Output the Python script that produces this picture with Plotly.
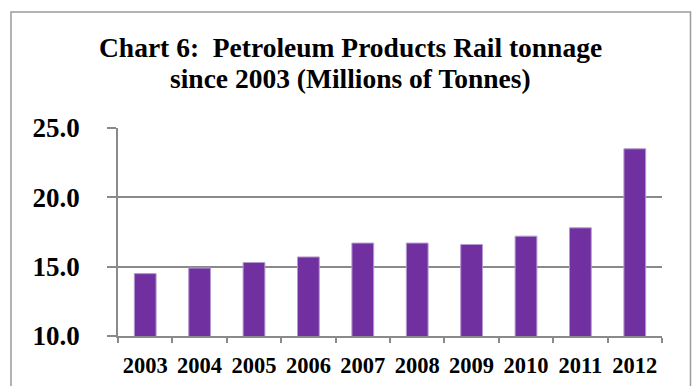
import plotly.graph_objects as go

# Petroleum products rail tonnage, millions of tonnes
years = ["2003", "2004", "2005", "2006", "2007", "2008", "2009", "2010", "2011", "2012"]
tonnage = [14.5, 14.9, 15.3, 15.7, 16.7, 16.7, 16.6, 17.2, 17.8, 23.5]
y_ticks = [10, 15, 20, 25]
y_tick_labels = ["10.0", "15.0", "20.0", "25.0"]
title_lines = ["Chart 6:\u00a0 Petroleum Products Rail tonnage",
               "since 2003 (Millions of Tonnes)"]

W, H = 694, 386
L, R, T, B = 118, 32, 128, 50
FONT = "Liberation Serif"
GRID = "#8a8a8a"

fig = go.Figure(
    go.Bar(
        x=years,
        y=tonnage,
        marker=dict(color="#7030A0", line=dict(color="#b59ad0", width=1)),
        hoverinfo="x+y",
    )
)

# pixel -> plot-area paper units
pw, ph = W - L - R, H - T - B
def px_x(v):
    return (v - L) / pw
def px_y(v):
    return (H - B - v) / ph

# outer chart frame
fig.add_shape(
    type="rect", xref="paper", yref="paper",
    x0=px_x(11), x1=px_x(690.5), y0=px_y(395), y1=px_y(12),
    line=dict(color="#9a9a9a", width=1.5), fillcolor="rgba(0,0,0,0)", layer="below",
)

# two-line chart title
for line, yc in zip(title_lines, [47.5, 78.5]):
    fig.add_annotation(
        text=line, showarrow=False,
        xref="paper", yref="paper", x=px_x(350.5), y=px_y(yc),
        xanchor="center", yanchor="middle",
        font=dict(family=FONT, size=27.5, color="black", weight="bold"),
    )

fig.update_layout(
    width=W, height=H,
    margin=dict(l=L, r=R, t=T, b=B, pad=0),
    paper_bgcolor="white", plot_bgcolor="white",
    bargap=0.6,
    showlegend=False,
    xaxis=dict(
        type="category",
        automargin=False,
        showline=True, linecolor=GRID, linewidth=1.5,
        ticks="outside", tickson="boundaries", ticklen=5, tickcolor=GRID, tickwidth=1.5,
        showgrid=False,
        tickangle=0,
        tickfont=dict(family=FONT, size=22.5, color="black", weight="bold"),
        ticklabelstandoff=8,
    ),
    yaxis=dict(
        range=[10, 25],
        automargin=False,
        tickvals=y_ticks, ticktext=y_tick_labels,
        showline=True, linecolor=GRID, linewidth=1.5,
        ticks="outside", ticklen=9, tickcolor=GRID, tickwidth=1.5,
        showgrid=True, gridcolor=GRID, gridwidth=1.5,
        zeroline=False,
        tickfont=dict(family=FONT, size=27, color="black", weight="bold"),
        ticklabelstandoff=22,
    ),
)

fig.write_html("out.html")
